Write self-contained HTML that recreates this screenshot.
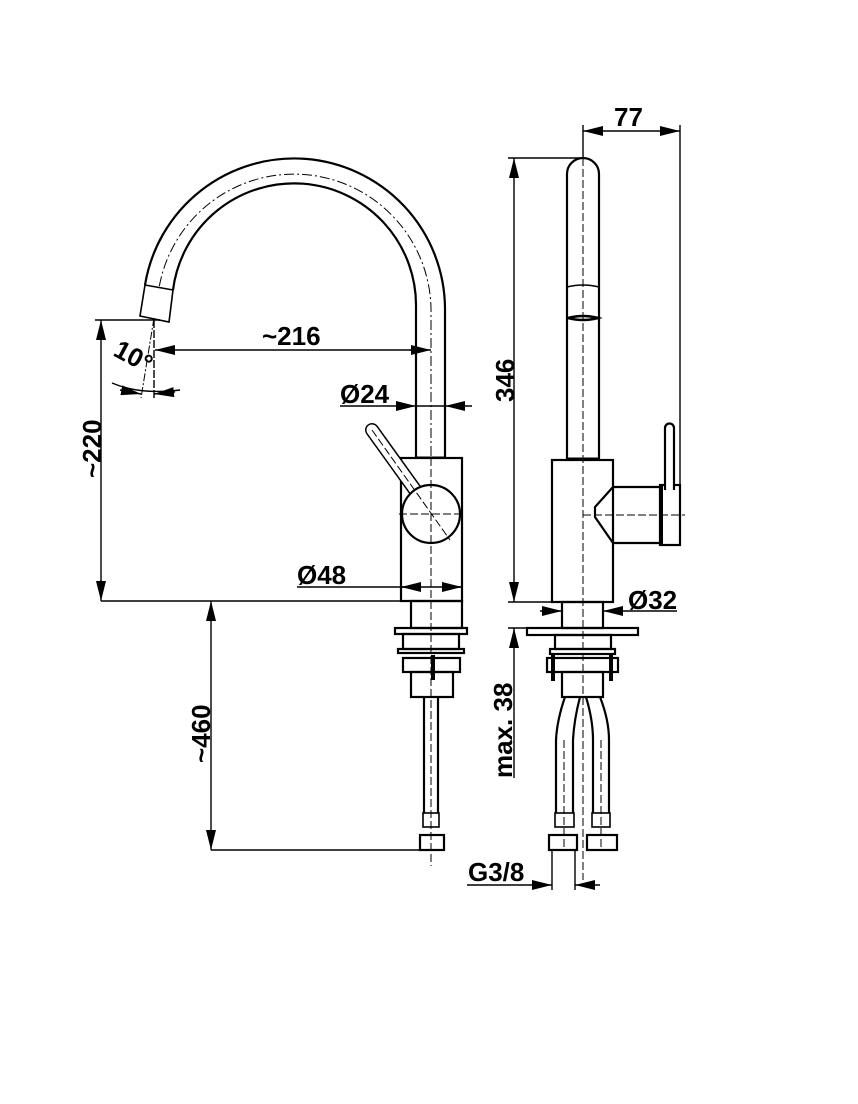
<!DOCTYPE html>
<html><head><meta charset="utf-8"><style>
html,body{margin:0;padding:0;background:#fff}
svg{display:block}
text{font-family:"Liberation Sans",Arial,sans-serif;font-weight:bold;font-size:26px;fill:#000}
</style></head><body>
<svg width="858" height="1104" viewBox="0 0 858 1104" xmlns="http://www.w3.org/2000/svg">
<defs>
<marker id="a" viewBox="0 0 20 10" refX="20" refY="5" markerWidth="20" markerHeight="10" markerUnits="userSpaceOnUse" orient="auto"><path d="M0,0 L20,5 L0,10 Z" fill="#000"/></marker>
</defs>
<g fill="none" stroke="#000" stroke-width="1.4">
<!-- LEFT VIEW -->
<path d="M445,458 L445,308 A151,151 0 0 0 145,285" stroke-width="2.2"/>
<path d="M416,458 L416,308 A122,122 0 0 0 173,290" stroke-width="2.2"/>
<path d="M431,600 L431,308 A137,137 0 0 0 159,288" stroke-dasharray="10,3,2,3" stroke-width="1"/>
<polygon points="145,285 173,290 169,322 140,316" stroke-width="1.6"/>
<line x1="416" y1="458" x2="445" y2="458" stroke-width="3"/>
<rect x="401" y="458" width="61" height="143" fill="#fff" stroke-width="2.2"/>
<line x1="372" y1="430" x2="418" y2="494" stroke-width="14" stroke-linecap="round"/>
<line x1="372" y1="430" x2="418" y2="494" stroke="#fff" stroke-width="11" stroke-linecap="round"/>
<circle cx="431" cy="514" r="29" fill="#fff" stroke-width="2.2"/>
<line x1="372" y1="430" x2="450" y2="540" stroke-dasharray="8,3" stroke-width="1"/>
<line x1="399" y1="514" x2="465" y2="514" stroke-dasharray="8,3" stroke-width="1"/>
<rect x="411" y="601" width="51" height="27" stroke-width="2.2"/>
<rect x="395" y="628" width="72" height="6" stroke-width="2.2"/>
<rect x="403" y="634" width="56" height="15" stroke-width="2.2"/>
<rect x="398" y="649" width="66" height="4" stroke-width="2.2"/>
<rect x="403" y="658" width="57" height="14" stroke-width="2.2"/>
<rect x="411" y="672" width="42" height="25" stroke-width="2.2"/>
<line x1="433" y1="655" x2="433" y2="680" stroke-width="4"/>
<line x1="424" y1="697" x2="424" y2="813" stroke-width="2.2"/>
<line x1="438" y1="697" x2="438" y2="813" stroke-width="2.2"/>
<rect x="423" y="813" width="16" height="14" stroke-width="1.6"/>
<rect x="420" y="835" width="24" height="15" stroke-width="2.2"/>
<line x1="431" y1="458" x2="431" y2="866" stroke-dasharray="8,3" stroke-width="1"/>

<line x1="101" y1="601" x2="401" y2="601"/>
<line x1="95" y1="320" x2="160" y2="320"/>
<line x1="101" y1="340" x2="101" y2="320" marker-end="url(#a)"/>
<line x1="101" y1="580" x2="101" y2="601" marker-end="url(#a)"/>
<line x1="101" y1="330" x2="101" y2="590"/>
<line x1="211" y1="620" x2="211" y2="601" marker-end="url(#a)"/>
<line x1="211" y1="830" x2="211" y2="850" marker-end="url(#a)"/>
<line x1="211" y1="610" x2="211" y2="840"/>
<line x1="211" y1="850" x2="420" y2="850"/>
<line x1="175" y1="350" x2="155" y2="350" marker-end="url(#a)"/>
<line x1="410" y1="350" x2="431" y2="350" marker-end="url(#a)"/>
<line x1="165" y1="350" x2="420" y2="350"/>
<line x1="340" y1="406" x2="416" y2="406" marker-end="url(#a)"/>
<line x1="472" y1="406" x2="445" y2="406" marker-end="url(#a)"/>
<line x1="416" y1="406" x2="445" y2="406"/>
<line x1="297" y1="587" x2="462" y2="587"/>
<line x1="421" y1="587" x2="401" y2="587" marker-end="url(#a)"/>
<line x1="442" y1="587" x2="462" y2="587" marker-end="url(#a)"/>
<line x1="154" y1="320" x2="154" y2="398" stroke-dasharray="8,2"/>
<line x1="154" y1="318" x2="141" y2="398" stroke-dasharray="8,2,2,2" stroke-width="1"/>
<path d="M112,383 Q140,395 180,390"/>
<line x1="120" y1="390" x2="141" y2="394" marker-end="url(#a)"/>
<line x1="175" y1="392" x2="154" y2="394" marker-end="url(#a)"/>

<!-- RIGHT VIEW -->
<path d="M567,459 L567,174 A16,16 0 0 1 599,174 L599,459" stroke-width="2.2"/>
<path d="M567,287 Q583,283 599,287" stroke-width="1.6"/>
<path d="M568,318 Q583,314 598,318 Q583,322 568,318" stroke-width="2.5"/>
<rect x="552" y="460" width="61" height="142" stroke-width="2.2"/>
<line x1="567" y1="459" x2="599" y2="459" stroke-width="3"/>
<path d="M613,487 L660,487 M613,543 L660,543 M613,487 L595,507 L595,517 L613,543" stroke-width="2.2"/>
<rect x="660" y="485" width="20" height="60" stroke-width="2.2"/>
<line x1="661.5" y1="485" x2="661.5" y2="545" stroke-width="3"/>
<path d="M665,490 L665,428 A4.5,4.5 0 0 1 674,428 L674,490" fill="#fff" stroke-width="2.2"/>
<line x1="583" y1="125" x2="583" y2="880" stroke-dasharray="8,3" stroke-width="1"/>
<line x1="583" y1="515" x2="685" y2="515" stroke-dasharray="8,3" stroke-width="1"/>
<rect x="562" y="602" width="41" height="26" stroke-width="2.2"/>
<rect x="527" y="628" width="111" height="7" stroke-width="2.2"/>
<rect x="555" y="635" width="56" height="14" stroke-width="2.2"/>
<rect x="550" y="649" width="65" height="5" stroke-width="2.2"/>
<rect x="547" y="658" width="71" height="14" stroke-width="2.2"/>
<line x1="553" y1="654" x2="553" y2="681" stroke-width="4"/>
<line x1="611" y1="654" x2="611" y2="681" stroke-width="4"/>
<rect x="562" y="672" width="41" height="25" stroke-width="2.2"/>
<path d="M565,697 Q557,720 556,740 L556,813 M580,697 Q574,720 573,740 L573,813 M586,697 Q593,720 593,740 L593,813 M600,697 Q609,720 609,740 L609,813" stroke-width="2.2"/>
<rect x="555" y="813" width="19" height="14" stroke-width="1.6"/>
<rect x="592" y="813" width="18" height="14" stroke-width="1.6"/>
<rect x="549" y="835" width="28" height="15" stroke-width="2.2"/>
<rect x="587" y="835" width="30" height="15" stroke-width="2.2"/>
<line x1="564" y1="740" x2="564" y2="850" stroke-dasharray="8,3" stroke-width="1"/>
<line x1="601" y1="740" x2="601" y2="850" stroke-dasharray="8,3" stroke-width="1"/>
<line x1="583" y1="125" x2="583" y2="158"/>
<line x1="680" y1="125" x2="680" y2="545"/>
<line x1="603" y1="131" x2="583" y2="131" marker-end="url(#a)"/>
<line x1="660" y1="131" x2="680" y2="131" marker-end="url(#a)"/>
<line x1="590" y1="131" x2="670" y2="131"/>
<line x1="508" y1="158" x2="583" y2="158"/>
<line x1="508" y1="602" x2="552" y2="602"/>
<line x1="514" y1="178" x2="514" y2="158" marker-end="url(#a)"/>
<line x1="514" y1="582" x2="514" y2="602" marker-end="url(#a)"/>
<line x1="514" y1="170" x2="514" y2="590"/>
<line x1="540" y1="611" x2="562" y2="611" marker-end="url(#a)"/>
<line x1="677" y1="611" x2="603" y2="611" marker-end="url(#a)"/>
<line x1="508" y1="628" x2="527" y2="628"/>
<line x1="514" y1="778" x2="514" y2="628" marker-end="url(#a)"/>
<line x1="552" y1="850" x2="552" y2="890"/>
<line x1="575" y1="850" x2="575" y2="890"/>
<line x1="467" y1="885" x2="552" y2="885" marker-end="url(#a)"/>
<line x1="600" y1="885" x2="575" y2="885" marker-end="url(#a)"/>
</g>
<text x="262" y="345">~216</text>
<text x="340" y="403">Ø24</text>
<text x="297" y="584">Ø48</text>
<text x="614" y="126">77</text>
<text x="628" y="609">Ø32</text>
<text x="468" y="881">G3/8</text>
<text transform="translate(101,478) rotate(-90)">~220</text>
<text transform="translate(210,763) rotate(-90)">~460</text>
<text transform="translate(514,402) rotate(-90)">346</text>
<text transform="translate(512,778) rotate(-90)">max. 38</text>
<text transform="translate(112,355) rotate(28)">10°</text>
</svg>
</body></html>
